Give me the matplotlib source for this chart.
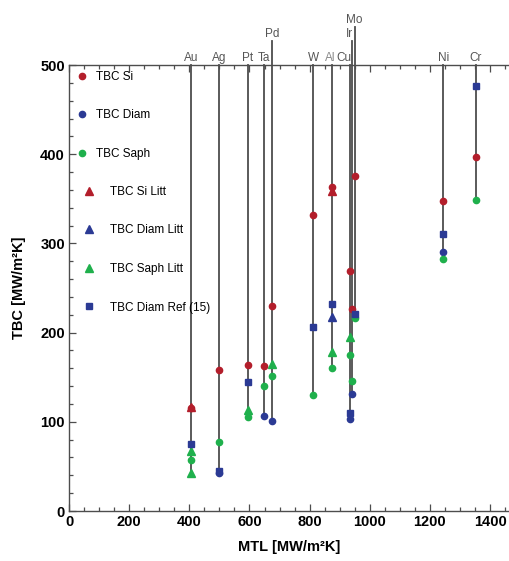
import numpy as np
import matplotlib.pyplot as plt
from matplotlib.lines import Line2D
from matplotlib.ticker import MultipleLocator

plt.rcParams['font.family'] = ['Liberation Sans', 'DejaVu Sans']

# metals (top labels) and their MTL values
metals = ['Au', 'Ag', 'Pt', 'Ta', 'Pd', 'W', 'Al', 'Cu', 'Ir', 'Mo', 'Ni', 'Cr']
mtl = [407, 499, 595, 649, 674, 812, 873, 933, 941, 950, 1244, 1353]

nan = np.nan
tbc_si = [116, 158, 164, 163, 230, 332, 363, 269, 226, 376, 348, 397]
tbc_diam = [nan, 43, nan, 106, 101, nan, nan, 103, 131, nan, 290, nan]
tbc_saph = [57, 77, 105, 140, 151, 130, 160, 175, 146, 216, 283, 349]

si_litt_metal = ['Au', 'Al']
si_litt = [117, 359]
diam_litt_metal = ['Al']
diam_litt = [218]
saph_litt_metal = ['Au', 'Au', 'Pt', 'Pd', 'Al', 'Cu']
saph_litt = [67, 43, 113, 165, 178, 195]
diam_ref_metal = ['Au', 'Ag', 'Pt', 'W', 'Al', 'Cu', 'Mo', 'Ni', 'Cr']
diam_ref = [75, 45, 145, 206, 232, 110, 221, 311, 476]

# metals whose line goes above the frame
raised = {'Pd': 527, 'Ir': 527, 'Mo': 543}
# small sideways nudge of crowded labels
nudge = {'Cu': -20, 'Ir': -10, 'Al': -4}

red = '#b31e2b'
blue = '#2b3a94'
green = '#1fb04c'
grey = '#4d4d4d'

pos = dict(zip(metals, mtl))

fig = plt.figure(figsize=(5.09, 5.61), dpi=100)
ax = fig.add_axes([0.1356, 0.0891, 0.8644, 0.795])

# vertical guide lines, from the lowest value up to the frame
allv = {m: [] for m in metals}
for vals in (tbc_si, tbc_diam, tbc_saph):
    for m, v in zip(metals, vals):
        if not np.isnan(v):
            allv[m].append(v)
for ms, vals in ((si_litt_metal, si_litt), (diam_litt_metal, diam_litt),
                 (saph_litt_metal, saph_litt), (diam_ref_metal, diam_ref)):
    for m, v in zip(ms, vals):
        allv[m].append(v)
for m in metals:
    top = raised.get(m, 500)
    ax.plot([pos[m], pos[m]], [min(allv[m]), top], color=grey, lw=1.3,
            zorder=1, clip_on=False)
    ax.text(pos[m] + nudge.get(m, 0), top + 1, m, ha='center', va='bottom',
            fontsize=8.5, color='#555555' if m != 'Al' else '#8a8a8a')

ms_c = 4.5
ms_t = 5.2
ms_s = 5.0
ax.plot(mtl, tbc_si, 'o', color=red, ms=ms_c, zorder=3)
ax.plot(mtl, tbc_diam, 'o', color=blue, ms=ms_c, zorder=3)
ax.plot(mtl, tbc_saph, 'o', color=green, ms=ms_c, zorder=3)
ax.plot([pos[m] for m in si_litt_metal], si_litt, '^', color=red, ms=ms_t, zorder=2)
ax.plot([pos[m] for m in diam_litt_metal], diam_litt, '^', color=blue, ms=ms_t, zorder=3)
ax.plot([pos[m] for m in saph_litt_metal], saph_litt, '^', color=green, ms=ms_t, zorder=3)
ax.plot([pos[m] for m in diam_ref_metal], diam_ref, 's', color=blue, ms=ms_s, zorder=4)

ax.set_xlim(0, 1463)
ax.set_ylim(0, 500)
ax.xaxis.set_major_locator(MultipleLocator(200))
ax.xaxis.set_minor_locator(MultipleLocator(50))
ax.yaxis.set_major_locator(MultipleLocator(100))
ax.yaxis.set_minor_locator(MultipleLocator(20))
ax.tick_params(which='both', direction='in', top=True, color=grey, width=0.9)
ax.tick_params(which='major', length=5, labelsize=10.5, pad=3)
ax.tick_params(which='minor', length=3)
for lab in ax.get_xticklabels() + ax.get_yticklabels():
    lab.set_fontweight('bold')
ax.spines['right'].set_visible(False)
for s in ('left', 'bottom', 'top'):
    ax.spines[s].set_color(grey)
    ax.spines[s].set_linewidth(1.0)

ax.set_xlabel('MTL [MW/m²K]', fontsize=10.5, fontweight='bold', labelpad=8)
ax.set_ylabel('TBC [MW/m²K]', fontsize=10.5, fontweight='bold', labelpad=10)

h1 = [Line2D([], [], ls='', marker='o', color=c, ms=ms_c) for c in (red, blue, green)]
leg1 = ax.legend(h1, ['TBC Si', 'TBC Diam', 'TBC Saph'], loc='upper left',
                 bbox_to_anchor=(0.016, 0.987), frameon=False, fontsize=8.5,
                 handlelength=1.0, handletextpad=0.7, labelspacing=2.25,
                 borderpad=0, borderaxespad=0)
ax.add_artist(leg1)
h2 = [Line2D([], [], ls='', marker='^', color=c, ms=ms_t) for c in (red, blue, green)]
h2.append(Line2D([], [], ls='', marker='s', color=blue, ms=ms_s))
ax.legend(h2, ['TBC Si Litt', 'TBC Diam Litt', 'TBC Saph Litt', 'TBC Diam Ref (15)'],
          loc='upper left', bbox_to_anchor=(0.032, 0.729), frameon=False,
          fontsize=8.5, handlelength=1.0, handletextpad=1.3, labelspacing=2.25,
          borderpad=0, borderaxespad=0)

fig.savefig('out.png', dpi=100)
